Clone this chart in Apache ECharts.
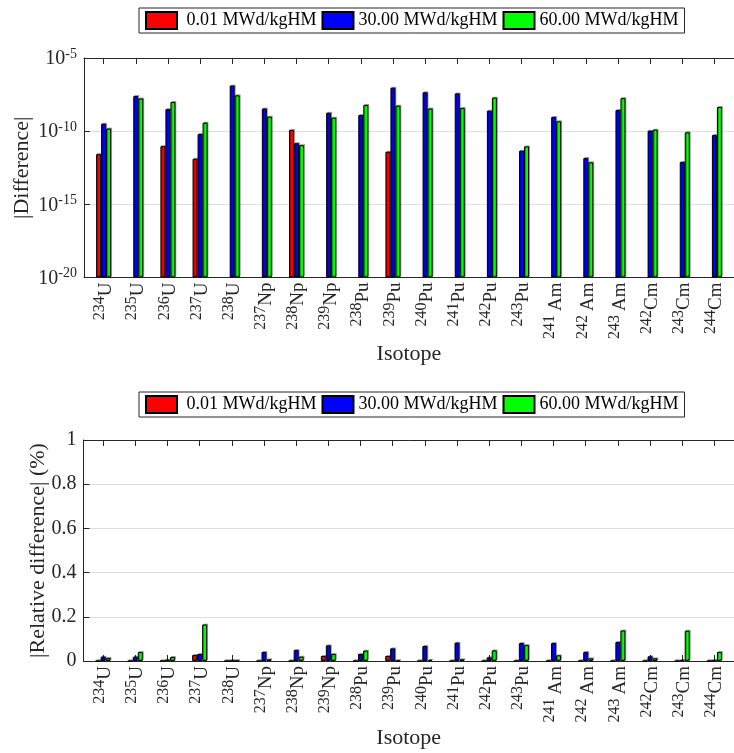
<!DOCTYPE html>
<html>
<head>
<meta charset="utf-8">
<script src="https://cdn.jsdelivr.net/npm/echarts@6/dist/echarts.min.js"></script>
<style>
html,body{margin:0;padding:0;background:#fff;}
#chart{width:734px;height:753px;}
</style>
</head>
<body>
<div id="chart"></div>
<script>
// ---- data ----
const massNumbers = ['234','235','236','237','238','237','238','239','238','239','240','241','242','243','241','242','243','242','243','244'];
const elements    = ['U','U','U','U','U','Np','Np','Np','Pu','Pu','Pu','Pu','Pu','Pu','Am','Am','Am','Cm','Cm','Cm'];
const burnupNames = ['0.01 MWd/kgHM', '30.00 MWd/kgHM', '60.00 MWd/kgHM'];

// |Difference| (absolute), null = zero (not drawn on log scale)
const diff001 = [2.7e-12, null, 9.5e-12, 1.3e-12, null, null, 1.2e-10, null, null, 3.9e-12, null, null, null, null, null, null, null, null, null, null];
const diff30  = [3.2e-10, 2.5e-8, 3.2e-9, 6.3e-11, 1.3e-7, 3.5e-9, 1.5e-11, 1.8e-9, 1.26e-9, 9.3e-8, 4.5e-8, 3.8e-8, 2.5e-9, 4.6e-12, 9.3e-10, 1.45e-12, 2.75e-9, 1.07e-10, 7.8e-13, 5.4e-11];
const diff60  = [1.5e-10, 1.7e-8, 9.8e-9, 3.8e-10, 2.8e-8, 9.8e-10, 1.1e-11, 8.3e-10, 6.2e-9, 5.5e-9, 3.5e-9, 3.8e-9, 1.95e-8, 9.1e-12, 4.7e-10, 7.4e-13, 1.8e-8, 1.26e-10, 8.3e-11, 4.5e-9];

// |Relative difference| (%)
const rel001 = [0, 0, 0, 0.027, 0, 0, 0, 0.0226, 0, 0.0226, 0, 0, 0, 0, 0, 0, 0, 0, 0, 0];
const rel30  = [0.0195, 0.0195, 0.006, 0.0316, 0.001, 0.0406, 0.0496, 0.0707, 0.0316, 0.057, 0.0677, 0.0827, 0.0165, 0.081, 0.081, 0.0406, 0.0857, 0.021, 0.0045, 0.003];
const rel60  = [0.0135, 0.0406, 0.018, 0.165, 0.001, 0.0075, 0.0195, 0.0316, 0.0466, 0.001, 0.0045, 0.0075, 0.048, 0.072, 0.0256, 0.012, 0.138, 0.012, 0.137, 0.0406];

// log axis decades shown: 10^-20 ... 10^-5
const logFloor = -20;
const logCeil = -5;

// ---- chart ----
const FONT = "'Liberation Serif','Times New Roman',serif";
const TXT = '#262626';
const AX = '#262626';
const colors = ['#ff0000', '#0000ff', '#00ff00'];
const positions = massNumbers.map((_, i) => i + 1);
const X_MIN = 0.39, X_MAX = 20.61;

function isoLabel(v) {
  const i = Math.round(v) - 1;
  if (i < 0 || i >= elements.length) return '';
  const sep = elements[i] === 'Am' ? ' ' : '';
  return '{s|' + massNumbers[i] + sep + '}{e|' + elements[i] + '}';
}
const isoRich = {
  s: {fontSize: 16, fontFamily: FONT, color: TXT, verticalAlign: 'bottom', padding: [0, 0, 7, 0]},
  e: {fontSize: 19, fontFamily: FONT, color: TXT, verticalAlign: 'bottom'}
};

function bottomX(gridIndex) {
  return {
    type: 'value', gridIndex: gridIndex, min: X_MIN, max: X_MAX, position: 'bottom',
    axisLine: {show: true, onZero: false, lineStyle: {color: AX, width: 1}},
    axisTick: {show: true, inside: true, length: 6, customValues: positions, lineStyle: {color: AX}},
    axisLabel: {show: true, customValues: positions, rotate: 90, margin: 5, formatter: isoLabel, rich: isoRich},
    splitLine: {show: false},
    name: 'Isotope', nameLocation: 'middle', nameGap: 66, nameMoveOverlap: false,
    nameTextStyle: {fontSize: 22, fontFamily: FONT, color: TXT}
  };
}
function topX(gridIndex) {
  return {
    type: 'value', gridIndex: gridIndex, min: X_MIN, max: X_MAX, position: 'top',
    axisLine: {show: true, onZero: false, lineStyle: {color: AX, width: 1}},
    axisTick: {show: true, inside: true, length: 6, customValues: positions, lineStyle: {color: AX}},
    axisLabel: {show: false},
    splitLine: {show: false}
  };
}

function legendCfg(top) {
  return {
    top: top, left: 139, orient: 'horizontal',
    data: burnupNames,
    itemWidth: 31, itemHeight: 17, itemGap: 5,
    icon: 'rect',
    borderColor: AX, borderWidth: 1, padding: [3, 6, 3, 6],
    backgroundColor: '#fff',
    formatter: n => (n === burnupNames[0] ? ' ' + n : n),
    textStyle: {fontSize: 18, fontFamily: FONT, color: '#000'},
    selectedMode: false
  };
}

const barStyle = (i) => ({
  color: colors[i], borderColor: '#000', borderWidth: 1,
  shadowColor: 'rgba(0,0,0,0.3)', shadowOffsetX: 1, shadowOffsetY: -1, shadowBlur: 0
});

const diffs = [diff001, diff30, diff60];
const rels = [rel001, rel30, rel60];

const series = [];
diffs.forEach((arr, k) => {
  series.push({
    type: 'bar', name: burnupNames[k], xAxisIndex: 0, yAxisIndex: 0,
    barWidth: 5, barGap: '0%',
    itemStyle: barStyle(k),
    data: arr.map((v, i) => [i + 1, v == null ? null : Math.log10(v) - logFloor])
  });
});
rels.forEach((arr, k) => {
  series.push({
    type: 'bar', name: burnupNames[k], xAxisIndex: 2, yAxisIndex: 1,
    barWidth: 5, barGap: '0%',
    itemStyle: barStyle(k),
    data: arr.map((v, i) => [i + 1, v])
  });
});

const option = {
  animation: false,
  backgroundColor: '#fff',
  legend: [legendCfg(8), legendCfg(392)],
  grid: [
    {left: 84, top: 58, right: -9, height: 219.5, containLabel: false},
    {left: 83.5, top: 440, right: -9, height: 221, containLabel: false}
  ],
  xAxis: [bottomX(0), topX(0), bottomX(1), topX(1)],
  yAxis: [
    {
      type: 'value', gridIndex: 0, min: 0, max: logCeil - logFloor, interval: 5,
      axisLine: {show: true, lineStyle: {color: AX}},
      axisTick: {show: true, inside: true, length: 6, lineStyle: {color: AX}},
      axisLabel: {
        margin: 7,
        formatter: v => '{b|10}{s|' + (v + logFloor) + '}',
        rich: {
          b: {fontSize: 20, fontFamily: FONT, color: TXT, verticalAlign: 'bottom'},
          s: {fontSize: 14, fontFamily: FONT, color: TXT, verticalAlign: 'bottom', padding: [0, 0, 8, 0]}
        }
      },
      splitLine: {show: true, lineStyle: {color: '#dedede', width: 1}},
      name: '|Difference|', nameLocation: 'middle', nameGap: 51, nameRotate: 90, nameMoveOverlap: false,
      nameTextStyle: {fontSize: 22, fontFamily: FONT, color: TXT}
    },
    {
      type: 'value', gridIndex: 1, min: 0, max: 1, interval: 0.2,
      axisLine: {show: true, lineStyle: {color: AX}},
      axisTick: {show: true, inside: true, length: 6, lineStyle: {color: AX}},
      axisLabel: {margin: 7, fontSize: 20, fontFamily: FONT, color: TXT},
      splitLine: {show: true, lineStyle: {color: '#dedede', width: 1}},
      name: '|Relative difference| (%)', nameLocation: 'middle', nameGap: 34, nameRotate: 90, nameMoveOverlap: false,
      nameTextStyle: {fontSize: 22, fontFamily: FONT, color: TXT}
    }
  ],
  series: series
};

const chart = echarts.init(document.getElementById('chart'), null, {renderer: 'canvas'});
chart.setOption(option);
</script>
</body>
</html>
